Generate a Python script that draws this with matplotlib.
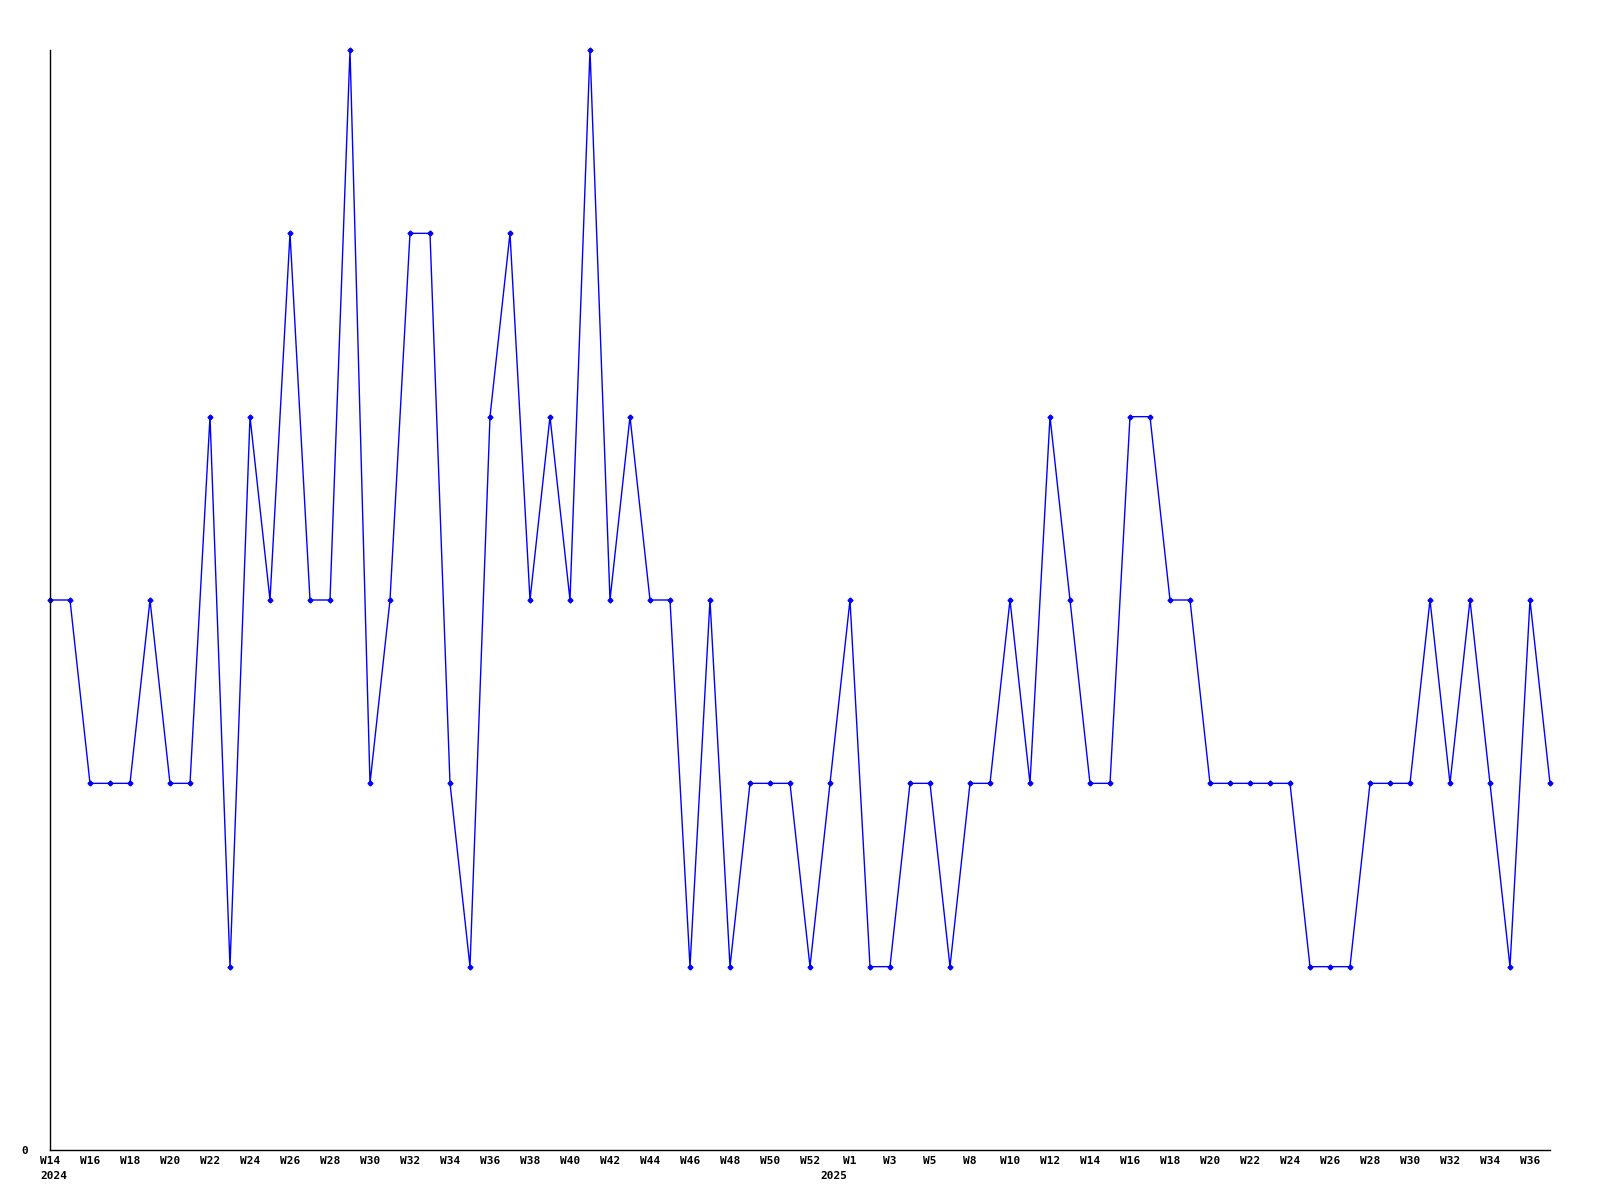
import matplotlib
matplotlib.use('Agg')
import matplotlib.pyplot as plt

# weekly counts, W14 2024 .. W37 2025
values = [3, 3, 2, 2, 2, 3, 2, 2, 4, 1,
          4, 3, 5, 3, 3, 6, 2, 3, 5, 5,
          2, 1, 4, 5, 3, 4, 3, 6, 3, 4,
          3, 3, 1, 3, 1, 2, 2, 2, 1, 2,
          3, 1, 1, 2, 2, 1, 2, 2, 3, 2,
          4, 3, 2, 2, 4, 4, 3, 3, 2, 2,
          2, 2, 2, 1, 1, 1, 2, 2, 2, 3,
          2, 3, 2, 1, 3, 2]
week_labels = ['W14', 'W16', 'W18', 'W20', 'W22', 'W24', 'W26', 'W28', 'W30', 'W32',
               'W34', 'W36', 'W38', 'W40', 'W42', 'W44', 'W46', 'W48', 'W50', 'W52',
               'W1', 'W3', 'W5', 'W8', 'W10', 'W12', 'W14', 'W16', 'W18', 'W20',
               'W22', 'W24', 'W26', 'W28', 'W30', 'W32', 'W34', 'W36']
years = ['2024', '2025']
year_pos = [0, 39]

font = dict(family='DejaVu Sans Mono', weight='bold', size=8)

fig = plt.figure(figsize=(16, 12), dpi=100)
ax = fig.add_axes([50 / 1600, 50 / 1200, 1500 / 1600, 1100 / 1200])

x = list(range(len(values)))
ax.plot(x, values, color='#0000ff', linewidth=1.0, marker='D', markersize=2.5,
        clip_on=False)

ax.set_xlim(0, len(values) - 1)
ax.set_ylim(0, 6)

ax.spines['top'].set_visible(False)
ax.spines['right'].set_visible(False)
ax.spines['left'].set_linewidth(1.0)
ax.spines['bottom'].set_linewidth(1.0)

ax.set_xticks(range(0, 2 * len(week_labels), 2))
ax.set_xticklabels(week_labels, fontdict=font)
ax.set_yticks([0])
ax.set_yticklabels(['0'], fontdict=font)
ax.tick_params(axis='x', length=0, pad=4)
ax.tick_params(axis='y', length=0, pad=16)

for pos, yr in zip(year_pos, years):
    ax.annotate(yr, xy=(pos, 0), xycoords=('data', 'axes fraction'),
                xytext=(-10, -21), textcoords='offset pixels',
                ha='left', va='top', **font)

fig.savefig('out.png', dpi=100, facecolor='white')
